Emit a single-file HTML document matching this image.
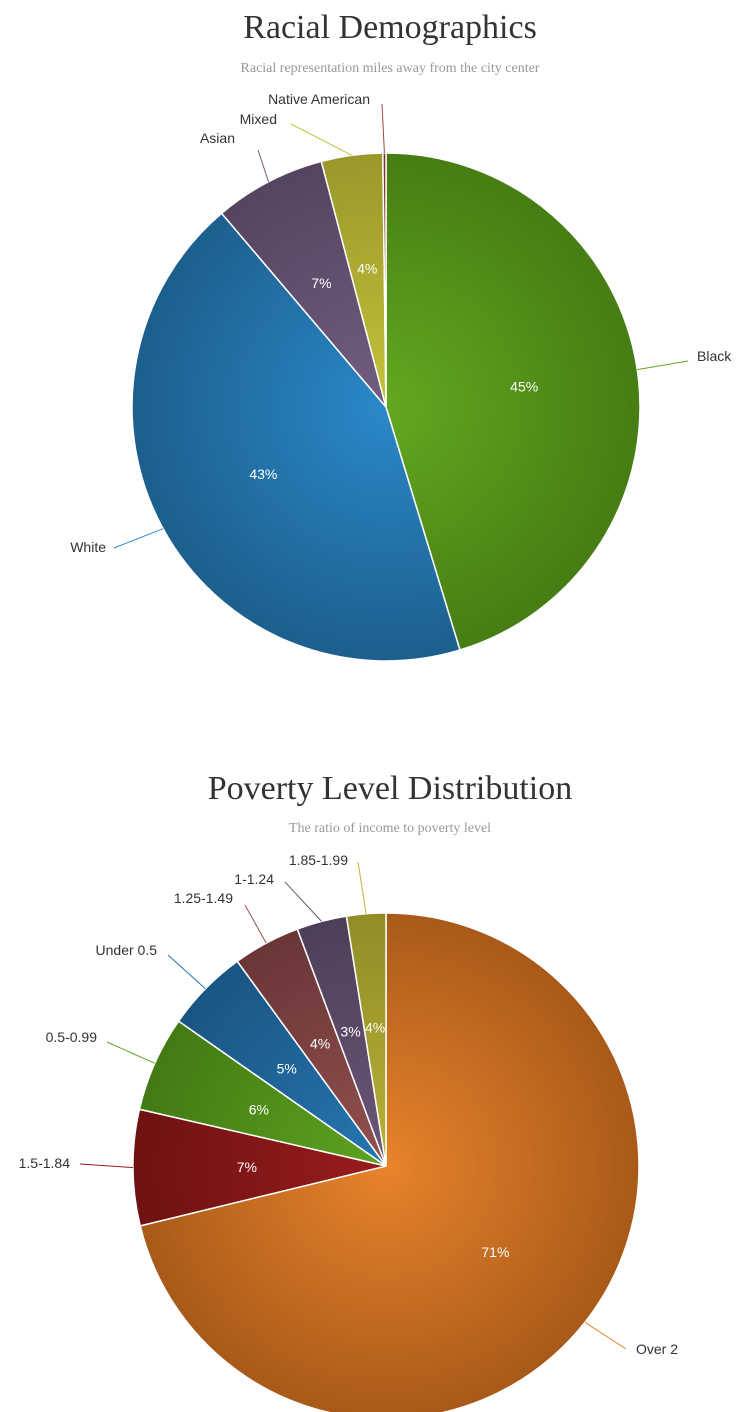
<!DOCTYPE html>
<html><head><meta charset="utf-8">
<style>
html,body{margin:0;padding:0;background:#fff;width:747px;height:1412px;overflow:hidden}
svg{display:block}
.t{font-family:"Liberation Serif",serif;fill:#333}
.s{font-family:"Liberation Serif",serif;fill:#999;font-size:14px}
.l{font-family:"Liberation Sans",sans-serif;font-size:14px;fill:#333}
.p{font-family:"Liberation Sans",sans-serif;font-size:14px;fill:#fff}
</style></head>
<body>
<svg id="svg" width="747" height="1412">
<defs id="defs"></defs>
<text class="t" x="390" y="38" font-size="34" text-anchor="middle">Racial Demographics</text>
<text class="s" x="390" y="72" text-anchor="middle">Racial representation miles away from the city center</text>
<text class="t" x="390" y="799" font-size="34" text-anchor="middle">Poverty Level Distribution</text>
<text class="s" x="390" y="832" text-anchor="middle">The ratio of income to poverty level</text>
</svg>
<script>
// Chart 1 data
const raceCats = ["Black","White","Asian","Mixed","Native American"];
const raceVals = [45.3,43.5,7.1,3.9,0.2];
const racePct = ["45%","43%","7%","4%",""];
// Chart 2 data
const povCats = ["Over 2","1.5-1.84","0.5-0.99","Under 0.5","1.25-1.49","1-1.24","1.85-1.99"];
const povVals = [71.2,7.4,6.1,5.3,4.3,3.2,2.5];
const povPct = ["71%","7%","6%","5%","4%","3%","4%"];

const raceColors=[["#62a81f","#467d14"],["#2b88c8","#1c5f8e"],["#725d80","#55445f"],["#c4c23a","#9a982a"],["#a04545","#7a3030"]];
const povColors=[["#e8832a","#a85a1a"],["#9a1c1c","#6e1212"],["#5ea321","#427a14"],["#2577b3","#1a5582"],["#935050","#6a3636"],["#6b5677","#4e3f58"],["#b8b336","#918c26"]];
const raceLabelPos=[[697,361,"start",688,361],[106,552,"end",114,548],[235,143,"end",258,150],[277,124,"end",291,124],[370,104,"end",382,104]];
const povLabelPos=[[636,1354,"start",626,1349],[70,1168,"end",80,1164],[97,1042,"end",107,1042],[157,955,"end",168,955],[233,903,"end",245,905],[274,884,"end",285,882],[348,865,"end",358,862]];

const NS="http://www.w3.org/2000/svg";
const svg=document.getElementById('svg'), defs=document.getElementById('defs');
function mk(t,a){const e=document.createElementNS(NS,t);for(const k in a)e.setAttribute(k,a[k]);return e;}
function pt(cx,cy,r,f){const a=f*2*Math.PI;return [cx+r*Math.sin(a),cy-r*Math.cos(a)];}

function pie(id,cx,cy,r,cats,vals,pcts,colors,lpos){
  const tot=vals.reduce((a,b)=>a+b,0);let acc=0;
  vals.forEach((v,i)=>{
    const f0=acc/tot,f1=(acc+v)/tot;acc+=v;
    const g=mk('radialGradient',{id:id+'g'+i,cx:cx,cy:cy,r:r,gradientUnits:'userSpaceOnUse'});
    g.appendChild(mk('stop',{offset:'0','stop-color':colors[i][0]}));
    g.appendChild(mk('stop',{offset:'1','stop-color':colors[i][1]}));
    defs.appendChild(g);
    const p0=pt(cx,cy,r,f0),p1=pt(cx,cy,r,f1);
    const path=mk('path',{d:`M${cx},${cy}L${p0[0]},${p0[1]}A${r},${r} 0 ${f1-f0>0.5?1:0} 1 ${p1[0]},${p1[1]}Z`,fill:`url(#${id}g${i})`,stroke:'#fff','stroke-width':1.5});
    
    
    svg.appendChild(path);
    const fm=(f0+f1)/2;
    const e=pt(cx,cy,r,fm),L=lpos[i];
    const ln=mk('path',{d:`M${e[0]},${e[1]}L${L[3]},${L[4]}`,stroke:colors[i][0],fill:'none','stroke-width':1});
    
    
    svg.appendChild(ln);
    const t=mk('text',{x:L[0],y:L[1],'text-anchor':L[2],class:'l'});t.textContent=cats[i];
    
    
    svg.appendChild(t);
    if(pcts[i]){const q=pt(cx,cy,r*0.55,fm);
      const pt2=mk('text',{x:q[0],y:q[1]+5,'text-anchor':'middle',class:'p'});pt2.textContent=pcts[i];
      
      
      svg.appendChild(pt2);}
  });
}
pie('r',386,407,254,raceCats,raceVals,racePct,raceColors,raceLabelPos);
pie('v',386,1166,253,povCats,povVals,povPct,povColors,povLabelPos);
</script>
</body></html>
